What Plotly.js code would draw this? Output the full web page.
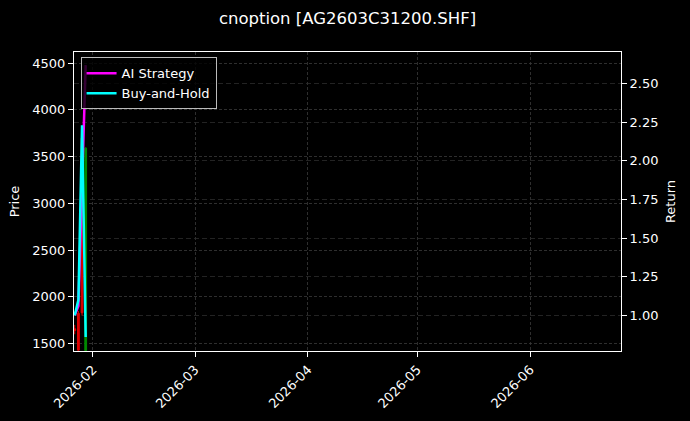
<!DOCTYPE html>
<html>
<head>
<meta charset="utf-8">
<script src="https://cdn.plot.ly/plotly-3.0.1.min.js"></script>
<style>
  html, body { margin: 0; padding: 0; background: #000; }
  #grafico { width: 690px; height: 421px; }
</style>
</head>
<body>
<div id="grafico"></div>
<script>
"use strict";

// Velas diarias del contrato
const fechas = ['2026-01-27', '2026-01-28', '2026-01-29', '2026-01-30'];
const apertura = [1640, 1430, 1830, 3590];
const maximo = [1700, 1850, 3760, 3600];
const minimo = [1600, 1421, 1800, 1421];
const cierre = [1658, 1824, 3700, 1425];

// Curvas de retorno
const retornoIA = [1.0, 1.06, 1.85, 2.62];
const retornoBH = [1.0, 1.10, 2.23, 0.86];

const fuente = 'DejaVu Sans, sans-serif';
const tamTexto = 13;

const traceVelas = {
    x: fechas,
    open: apertura,
    high: maximo,
    low: minimo,
    close: cierre,
    type: 'candlestick',
    xaxis: 'x',
    yaxis: 'y',
    increasing: { line: { color: '#e00000', width: 1 }, fillcolor: '#e00000' },
    decreasing: { line: { color: '#008a00', width: 1 }, fillcolor: '#008a00' },
    showlegend: false,
    hoverinfo: 'skip'
};

const traceIA = {
    x: fechas,
    y: retornoIA,
    type: 'scatter',
    mode: 'lines',
    yaxis: 'y2',
    line: { color: '#ff00ff', width: 2.5 },
    name: 'AI Strategy'
};

const traceBH = {
    x: fechas,
    y: retornoBH,
    type: 'scatter',
    mode: 'lines',
    yaxis: 'y2',
    line: { color: '#00ffff', width: 2.5 },
    name: 'Buy-and-Hold'
};

const layout = {
    width: 690,
    height: 421,
    margin: { l: 74, r: 69, t: 52, b: 70 },
    paper_bgcolor: '#000000',
    plot_bgcolor: '#000000',
    font: { family: fuente, size: tamTexto, color: '#ffffff' },
    title: {
        text: 'cnoption [AG2603C31200.SHF]',
        font: { family: fuente, size: 16.5, color: '#ffffff' },
        x: 0.5,
        xref: 'paper',
        y: 1 - 18 / 421,
        yanchor: 'middle'
    },
    showlegend: true,
    legend: {
        x: 0.012,
        y: 0.982,
        xanchor: 'left',
        yanchor: 'top',
        bgcolor: 'rgba(0,0,0,0.8)',
        bordercolor: '#bbbbbb',
        borderwidth: 1,
        font: { family: fuente, size: tamTexto, color: '#ffffff' }
    },
    xaxis: {
        type: 'date',
        range: ['2026-01-26 19:00', '2026-06-25 22:00'],
        rangeslider: { visible: false },
        tick0: '2026-02-01',
        dtick: 'M1',
        tickformat: '%Y-%m',
        tickangle: -45,
        ticks: 'outside',
        ticklen: 5,
        tickcolor: '#ffffff',
        showline: true,
        linecolor: '#ffffff',
        linewidth: 1,
        mirror: true,
        showgrid: true,
        gridcolor: '#3a3a3a',
        griddash: '3px,2px',
        gridwidth: 0.8,
        zeroline: false
    },
    yaxis: {
        title: { text: 'Price', standoff: 9, font: { family: fuente, size: tamTexto, color: '#ffffff' } },
        range: [1421, 4618],
        tick0: 1500,
        dtick: 500,
        ticks: 'outside',
        ticklen: 5,
        tickcolor: '#ffffff',
        showline: true,
        linecolor: '#ffffff',
        linewidth: 1,
        showgrid: true,
        gridcolor: '#3a3a3a',
        griddash: '3px,2px',
        gridwidth: 0.8,
        zeroline: false
    },
    yaxis2: {
        title: { text: 'Return', standoff: 8, font: { family: fuente, size: tamTexto, color: '#ffffff' } },
        overlaying: 'y',
        side: 'right',
        range: [0.769, 2.705],
        tick0: 1,
        dtick: 0.25,
        tickformat: '.2f',
        ticks: 'outside',
        ticklen: 5,
        tickcolor: '#ffffff',
        showline: true,
        linecolor: '#ffffff',
        linewidth: 1,
        showgrid: true,
        gridcolor: '#2c2c2c',
        griddash: '5px,3px',
        gridwidth: 0.8,
        zeroline: false
    }
};

const config = {
    displayModeBar: false,
    staticPlot: true
};

Plotly.newPlot('grafico', [traceVelas, traceIA, traceBH], layout, config);
</script>
</body>
</html>
